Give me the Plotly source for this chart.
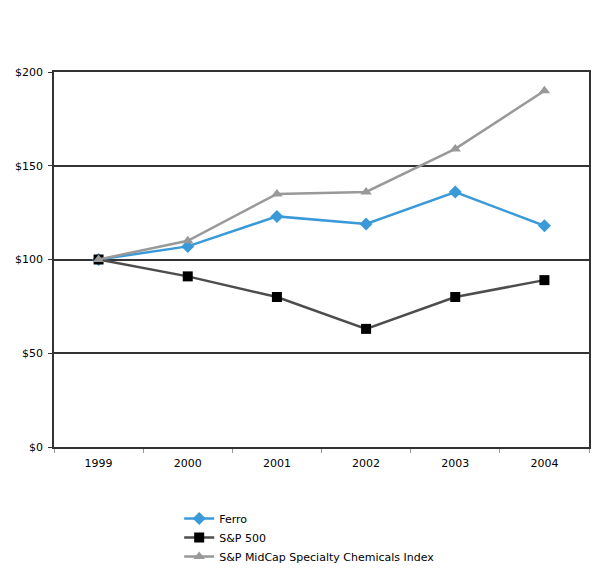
import plotly.graph_objects as go

years = ["1999", "2000", "2001", "2002", "2003", "2004"]
ferro = [100, 107, 123, 119, 136, 118]
sp500 = [100, 91, 80, 63, 80, 89]
midcap = [100, 110, 135, 136, 159, 190]
y_ticks = [0, 50, 100, 150, 200]
y_labels = ["$0", "$50", "$100", "$150", "$200"]

fig = go.Figure()
fig.add_trace(go.Scatter(x=years, y=ferro, name="Ferro", mode="lines+markers",
                         line=dict(color="#3A9AD9", width=2.5),
                         marker=dict(symbol="diamond", size=10, color="#3A9AD9")))
fig.add_trace(go.Scatter(x=years, y=sp500, name="S&P 500", mode="lines+markers",
                         line=dict(color="#4D4D4D", width=2.5),
                         marker=dict(symbol="square", size=10, color="#000000")))
fig.add_trace(go.Scatter(x=years, y=midcap, name="S&P MidCap Specialty Chemicals Index", mode="lines+markers",
                         line=dict(color="#999999", width=2.5),
                         marker=dict(symbol="triangle-up", size=10, color="#999999")))

fig.update_layout(
    width=597, height=564,
    margin=dict(l=46, r=16, t=64, b=125, autoexpand=False),
    paper_bgcolor="white", plot_bgcolor="white",
    font=dict(family="DejaVu Sans, Verdana, sans-serif", size=11, color="#000000"),
    showlegend=True,
    legend=dict(x=0.234, y=-0.152, xanchor="left", yanchor="top",
                orientation="v", font=dict(size=11), tracegroupgap=0,
                itemwidth=30, bgcolor="rgba(0,0,0,0)"),
    xaxis=dict(type="category", range=[-0.5, 5.5], showgrid=False,
               showline=True, linecolor="#333333", linewidth=1.5, mirror=True,
               ticks="outside", ticklen=4, tickcolor="#999999", tickson="boundaries",
               ticklabelstandoff=5, tickfont=dict(size=11)),
    yaxis=dict(range=[0, 200], tickvals=y_ticks, ticktext=y_labels,
               showgrid=True, gridcolor="#333333", gridwidth=1.5,
               showline=True, linecolor="#333333", linewidth=1.5, mirror=True,
               ticks="outside", ticklen=4, tickcolor="#333333", zeroline=False,
               ticklabelstandoff=3, tickfont=dict(size=11)),
)

fig.write_html("out.html")
